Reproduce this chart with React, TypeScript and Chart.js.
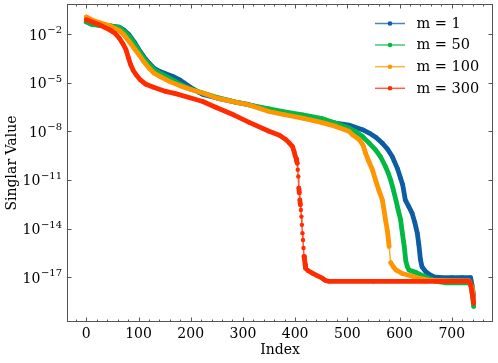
import React, { useEffect, useRef } from "react";
import { Chart, registerables } from "chart.js";

Chart.register(...registerables);

// ---- data (values are log10 of the singular value) ----
const seriesLabels = ["m = 1", "m = 50", "m = 100", "m = 300"];
const seriesColors = ["#0C5DA5", "#00B945", "#FF9500", "#FF2C00"];

const m1Index = [0, 10, 25, 45, 63, 72, 82, 92, 101, 110, 120, 130, 140, 152, 165, 180, 200, 216, 223, 250, 286, 312, 350, 380, 414, 450, 478, 503, 529, 542, 555, 567, 577, 586, 596, 602, 606, 611, 617, 624, 629, 634, 637, 640, 643, 650, 656, 666, 680, 700, 720, 736, 739, 742];
const m1Log10 = [-1.25, -1.38, -1.46, -1.5, -1.57, -1.75, -2.05, -2.5, -2.97, -3.4, -3.79, -4.12, -4.3, -4.45, -4.6, -4.85, -5.3, -5.6, -5.72, -5.95, -6.2, -6.36, -6.67, -6.88, -7.08, -7.3, -7.5, -7.62, -7.9, -8.11, -8.38, -8.73, -9.1, -9.55, -10.3, -10.9, -11.3, -12.23, -12.6, -13.05, -13.6, -14.28, -15.0, -15.9, -16.35, -16.65, -16.8, -16.98, -17.02, -17.02, -17.02, -17.02, -17.5, -18.2];

const m50Index = [0, 10, 25, 45, 63, 72, 82, 92, 101, 110, 120, 130, 140, 159, 180, 200, 223, 250, 286, 312, 350, 380, 414, 450, 478, 503, 515, 529, 541, 554, 564, 573, 578, 583, 588, 593, 597, 602, 605, 609, 612, 615, 618, 631, 650, 670, 690, 733, 738, 742];
const m50Log10 = [-1.25, -1.4, -1.47, -1.5, -1.6, -1.82, -2.15, -2.6, -3.05, -3.5, -3.88, -4.2, -4.4, -4.72, -5.1, -5.4, -5.64, -5.9, -6.2, -6.38, -6.61, -6.8, -6.98, -7.2, -7.5, -7.8, -8.0, -8.32, -8.7, -9.14, -9.6, -10.17, -10.55, -11.0, -11.6, -12.23, -12.8, -13.45, -14.2, -15.1, -16.0, -16.35, -16.55, -16.7, -16.98, -17.25, -17.35, -17.35, -17.6, -18.8];

const m100Index = [0, 10, 25, 45, 63, 72, 82, 92, 101, 110, 120, 130, 140, 159, 180, 200, 223, 250, 286, 312, 350, 380, 414, 450, 478, 503, 510, 523, 530, 535, 541, 548, 554, 560, 567, 570, 573, 577, 580, 583, 588, 593, 605, 618, 637, 660, 733, 739, 742];
const m100Log10 = [-0.95, -1.12, -1.3, -1.5, -1.78, -2.05, -2.46, -2.9, -3.28, -3.7, -4.1, -4.42, -4.6, -4.92, -5.2, -5.42, -5.64, -5.95, -6.2, -6.38, -6.78, -6.98, -7.19, -7.45, -7.7, -8.0, -8.22, -8.52, -8.85, -9.35, -9.85, -10.37, -11.0, -11.6, -12.23, -12.8, -13.45, -14.2, -15.1, -16.1, -16.35, -16.55, -16.77, -16.88, -17.06, -17.2, -17.22, -17.6, -18.4];

const m300Index = [0, 10, 25, 44, 55, 63, 70, 76, 81, 85, 90, 95, 104, 114, 130, 152, 171, 200, 223, 250, 283, 312, 350, 370, 382, 389, 395, 398, 400, 402, 403, 404, 405, 406, 407, 408, 409, 410, 411, 412, 413, 414, 415, 416, 417, 418, 419, 420, 425, 433, 442, 452, 458, 465, 550, 650, 733, 736, 739, 742];
const m300Log10 = [-1.12, -1.25, -1.43, -1.73, -1.95, -2.25, -2.6, -2.97, -3.5, -3.9, -4.25, -4.5, -4.85, -5.1, -5.3, -5.54, -5.68, -5.95, -6.16, -6.55, -7.0, -7.45, -8.0, -8.25, -8.5, -8.73, -8.94, -9.25, -9.5, -9.7, -9.85, -9.97, -10.37, -10.78, -11.5, -11.8, -12.23, -12.53, -12.85, -13.26, -13.77, -14.28, -14.7, -15.2, -15.72, -15.9, -16.2, -16.45, -16.6, -16.75, -16.9, -17.06, -17.2, -17.25, -17.25, -17.25, -17.25, -17.4, -17.99, -18.6];

const xMajorTicks = [0, 100, 200, 300, 400, 500, 600, 700];
const yTickExponents = [-17, -14, -11, -8, -5, -2];

const seriesIndex = [m1Index, m50Index, m100Index, m300Index];
const seriesLog10 = [m1Log10, m50Log10, m100Log10, m300Log10];

const FONT = "'DejaVu Serif', serif";
const FONT_SIZE = 14;
const AXIS_COLOR = "#555";

function withAlpha(hex: string, a: number) {
  const r = parseInt(hex.slice(1, 3), 16);
  const g = parseInt(hex.slice(3, 5), 16);
  const b = parseInt(hex.slice(5, 7), 16);
  return `rgba(${r},${g},${b},${a})`;
}

const decorPlugin = {
  id: "decor",
  afterDraw(chart: any) {
    const { ctx, chartArea: a, scales } = chart;
    const xs = scales.x;
    const ys = scales.y;
    ctx.save();
    // frame
    ctx.strokeStyle = AXIS_COLOR;
    ctx.lineWidth = 1;
    const L = Math.round(a.left) + 0.5;
    const R = Math.round(a.right) - 0.5;
    const T = Math.round(a.top) + 0.5;
    const B = Math.round(a.bottom) - 0.5;
    ctx.strokeRect(L, T, R - L, B - T);

    // x ticks (inward, top and bottom)
    ctx.beginPath();
    for (let v = -20; v <= 760; v += 20) {
      const px = Math.round(xs.getPixelForValue(v)) + 0.5;
      if (px < L || px > R) continue;
      const major = xMajorTicks.includes(v);
      const len = major ? 4 : 2;
      ctx.moveTo(px, B);
      ctx.lineTo(px, B - len);
      ctx.moveTo(px, T);
      ctx.lineTo(px, T + len);
    }
    // y ticks (inward, left and right)
    for (const e of yTickExponents) {
      const py = Math.round(ys.getPixelForValue(Math.pow(10, e))) + 0.5;
      ctx.moveTo(L, py);
      ctx.lineTo(L + 4, py);
      ctx.moveTo(R, py);
      ctx.lineTo(R - 4, py);
    }
    ctx.stroke();

    // y tick labels 10^e
    ctx.fillStyle = "#000";
    ctx.textBaseline = "alphabetic";
    ctx.textAlign = "left";
    for (const e of yTickExponents) {
      const py = ys.getPixelForValue(Math.pow(10, e));
      const base = "10";
      const exp = "\u2212" + String(Math.abs(e));
      ctx.font = `${FONT_SIZE}px ${FONT}`;
      const wb = ctx.measureText(base).width;
      ctx.font = `10px ${FONT}`;
      const we = ctx.measureText(exp).width;
      const right = a.left - 5;
      const x0 = right - wb - we - 0.5;
      ctx.font = `${FONT_SIZE}px ${FONT}`;
      ctx.fillText(base, x0, py + 5.5);
      ctx.font = `10px ${FONT}`;
      ctx.fillText(exp, x0 + wb + 0.5, py - 1);
    }

    // legend (upper right)
    const rows = [23.5, 45, 66.7, 88.3];
    ctx.font = `14.5px ${FONT}`;
    ctx.textBaseline = "middle";
    seriesLabels.forEach((lab, i) => {
      const y = rows[i];
      ctx.strokeStyle = withAlpha(seriesColors[i], 0.75);
      ctx.lineWidth = 1.5;
      ctx.beginPath();
      ctx.moveTo(375, y);
      ctx.lineTo(405, y);
      ctx.stroke();
      ctx.fillStyle = seriesColors[i];
      ctx.beginPath();
      ctx.arc(390, y, 2.3, 0, Math.PI * 2);
      ctx.fill();
      ctx.fillStyle = "#000";
      ctx.fillText(lab, 416.5, y + 0.5);
    });
    ctx.restore();
  },
};

export default function App() {
  const canvasRef = useRef<HTMLCanvasElement | null>(null);

  useEffect(() => {
    const canvas = canvasRef.current;
    if (!canvas) return;
    const datasets = seriesLabels.map((label, i) => {
      const idx = seriesIndex[i];
      const vals = seriesLog10[i];
      const steep = (ctx: any) => {
        const di = idx[ctx.p1DataIndex] - idx[ctx.p0DataIndex];
        const dy = Math.abs(ctx.p1.y - ctx.p0.y);
        return dy / Math.max(di, 1) > 5;
      };
      return {
        label,
        data: idx.map((x, k) => ({ x, y: Math.pow(10, vals[k]) })),
        borderColor: seriesColors[i],
        backgroundColor: seriesColors[i],
        pointBackgroundColor: seriesColors[i],
        pointBorderWidth: 0,
        pointRadius: 2.2,
        borderWidth: 4.8,
        borderCapStyle: "round",
        borderJoinStyle: "round",
        tension: 0,
        fill: false,
        order: 3 - i,
        segment: {
          borderWidth: (ctx: any) => (steep(ctx) ? 1.5 : 4.8),
          borderColor: (ctx: any) =>
            steep(ctx) ? withAlpha(seriesColors[i], 0.8) : seriesColors[i],
        },
      };
    });

    const chart = new Chart(canvas, {
      type: "line",
      data: { datasets: datasets as any },
      options: {
        responsive: false,
        animation: false,
        devicePixelRatio: 1,
        layout: { padding: { left: 0, top: 4, right: 5, bottom: 0 } },
        plugins: {
          legend: { display: false },
          tooltip: { enabled: false },
        },
        scales: {
          x: {
            type: "linear",
            min: -37,
            max: 779,
            grid: { display: false, drawTicks: false },
            border: { display: false },
            afterBuildTicks: (s: any) => {
              s.ticks = xMajorTicks.map((v) => ({ value: v }));
            },
            afterFit: (s: any) => {
              s.height = 41;
            },
            ticks: {
              color: "#000",
              padding: 4,
              maxRotation: 0,
              autoSkip: false,
              font: { family: FONT, size: FONT_SIZE },
              callback: (v: any) => String(v),
            },
            title: {
              display: true,
              text: "Index",
              color: "#000",
              font: { family: FONT, size: FONT_SIZE },
              padding: { top: 0, bottom: 4 },
            },
          },
          y: {
            type: "logarithmic",
            min: Math.pow(10, -19.76),
            max: Math.pow(10, -0.15),
            grid: { display: false, drawTicks: false },
            border: { display: false },
            afterBuildTicks: (s: any) => {
              s.ticks = yTickExponents.map((e) => ({ value: Math.pow(10, e) }));
            },
            afterFit: (s: any) => {
              s.width = 67;
            },
            ticks: { display: false },
            title: {
              display: true,
              text: "Singlar Value",
              color: "#000",
              font: { family: FONT, size: FONT_SIZE },
              padding: { top: 3.5, bottom: 0 },
            },
          },
        },
      },
      plugins: [decorPlugin],
    });
    return () => chart.destroy();
  }, []);

  return (
    <div
      style={{
        position: "fixed",
        left: 0,
        top: 0,
        width: 498,
        height: 363,
        background: "#fff",
      }}
    >
      <canvas
        ref={canvasRef}
        width={498}
        height={363}
        style={{ display: "block", width: 498, height: 363 }}
      />
    </div>
  );
}
